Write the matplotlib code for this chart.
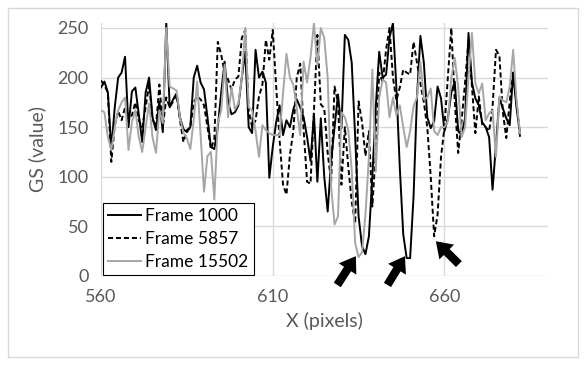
import numpy as np
import matplotlib
matplotlib.use('Agg')
import matplotlib.pyplot as plt
from matplotlib.patches import FancyArrowPatch, Rectangle

# x positions (pixels) 560..682
x_pixels = np.arange(560, 683)

frame_1000 = [
    190, 196, 185, 128, 170, 200, 205, 221, 150, 186,   # 560
    190, 163, 135, 185, 200, 160, 147, 176, 145, 255,   # 570
    170, 178, 184, 160, 148, 145, 150, 200, 212, 195,   # 580
    188, 160, 130, 128, 150, 185, 216, 175, 163, 165,   # 590
    172, 200, 226, 150, 144, 228, 200, 206, 195, 99,    # 600
    130, 155, 172, 142, 157, 150, 168, 178, 170, 160,   # 610
    140, 116, 163, 95, 159, 100, 65, 116, 150, 183,     # 620
    149, 243, 238, 215, 140, 60, 30, 22, 40, 100,       # 630
    170, 226, 200, 203, 240, 255, 190, 109, 42, 18,     # 640
    18, 80, 180, 242, 215, 160, 149, 156, 191, 179,     # 650
    146, 159, 185, 196, 146, 142, 159, 245, 195, 179,   # 660
    172, 155, 150, 140, 87, 132, 179, 169, 159, 152,    # 670
    205, 169, 144,                                      # 680
]

frame_5857 = [
    197, 192, 185, 115, 152, 166, 157, 170, 157, 162,   # 560
    175, 157, 150, 170, 193, 158, 150, 193, 150, 180,   # 570
    170, 176, 183, 157, 135, 147, 150, 175, 181, 178,   # 580
    172, 150, 128, 138, 236, 223, 205, 198, 188, 198,   # 590
    201, 240, 248, 167, 150, 157, 181, 193, 238, 218,   # 600
    248, 191, 137, 92, 82, 122, 146, 200, 214, 147,     # 610
    95, 93, 166, 243, 173, 169, 124, 95, 191, 175,      # 620
    92, 150, 110, 75, 53, 176, 155, 121, 146, 70,       # 630
    126, 205, 195, 228, 250, 200, 177, 190, 208, 205,   # 640
    203, 236, 215, 194, 175, 150, 100, 40, 62, 120,     # 650
    150, 201, 250, 176, 124, 157, 195, 238, 191, 144,   # 660
    181, 152, 150, 146, 170, 228, 222, 165, 139, 176,   # 670
    205, 174, 140,                                      # 680
]

frame_15502 = [
    167, 165, 140, 127, 150, 167, 175, 180, 127, 155,   # 560
    167, 140, 125, 150, 174, 140, 124, 167, 154, 250,   # 570
    191, 189, 187, 160, 144, 139, 128, 157, 196, 142,   # 580
    85, 121, 125, 77, 154, 167, 213, 160, 190, 168,     # 590
    174, 200, 250, 170, 167, 146, 120, 152, 147, 144,   # 600
    142, 142, 142, 184, 224, 200, 193, 169, 142, 216,   # 610
    195, 220, 255, 212, 250, 240, 200, 90, 52, 60,      # 620
    165, 160, 147, 107, 33, 19, 24, 62, 120, 208,       # 630
    105, 180, 198, 195, 160, 180, 162, 172, 150, 130,   # 640
    146, 171, 180, 216, 178, 180, 189, 146, 142, 150,   # 650
    150, 156, 200, 220, 190, 140, 150, 200, 245, 194,   # 660
    184, 194, 157, 164, 167, 120, 181, 177, 175, 191,   # 670
    228, 177, 144,                                      # 680
]

# arrows: (tail x, tail y) -> (tip x, tip y) in data units
arrow_tails = [(628.8, -9.0), (643.4, -9.0), (664.2, 12.0)]
arrow_tips = [(634.2, 20.0), (648.5, 20.0), (657.5, 35.0)]

plt.rcParams['font.family'] = ['Lato', 'DejaVu Sans']

fig = plt.figure(figsize=(5.85, 3.65), dpi=100)
ax = fig.add_axes([101 / 585, 89 / 365, 446.5 / 585, 253 / 365])

grid_c = '#D9D9D9'
text_c = '#595959'

ax.plot(x_pixels, frame_1000, color='black', lw=1.4, label='Frame 1000')
ax.plot(x_pixels, frame_5857, color='black', lw=1.4, ls=(0, (2.6, 1.5)), label='Frame 5857')
ax.plot(x_pixels, frame_15502, color='#A6A6A6', lw=1.4, label='Frame 15502')

ax.set_xlim(560, 690)
ax.set_ylim(0, 255)
ax.set_xticks([560, 610, 660])
ax.set_yticks(np.arange(0, 251, 50))
ax.grid(True, color=grid_c, lw=1)
ax.set_axisbelow(True)
for s in ax.spines.values():
    s.set_visible(False)
ax.tick_params(length=0, labelsize=13, colors=text_c, pad=9)
ax.set_xlabel('X (pixels)', fontsize=14, color=text_c, labelpad=5)
ax.set_ylabel('GS (value)', fontsize=14, color=text_c, labelpad=8)

leg = ax.legend(loc='lower left', bbox_to_anchor=(0.004, 0.004), fontsize=12.5,
                frameon=True, fancybox=False, borderaxespad=0, handlelength=1.9,
                handletextpad=0.25, labelspacing=0.4, borderpad=0.3)
leg.get_frame().set_edgecolor('black')
leg.get_frame().set_linewidth(0.8)
leg.get_frame().set_alpha(1)

for (tx, ty), (hx, hy) in zip(arrow_tails, arrow_tips):
    arr = FancyArrowPatch((tx, ty), (hx, hy),
                          arrowstyle='simple,head_length=11,head_width=15,tail_width=6',
                          mutation_scale=1, color='black', lw=0, shrinkA=0, shrinkB=0,
                          clip_on=False, zorder=5)
    ax.add_patch(arr)

fig.patches.append(Rectangle((8 / 585, 8 / 365), 570 / 585, 349 / 365, transform=fig.transFigure,
                             fill=False, edgecolor=grid_c, lw=1))

fig.savefig('out.png', dpi=100)
